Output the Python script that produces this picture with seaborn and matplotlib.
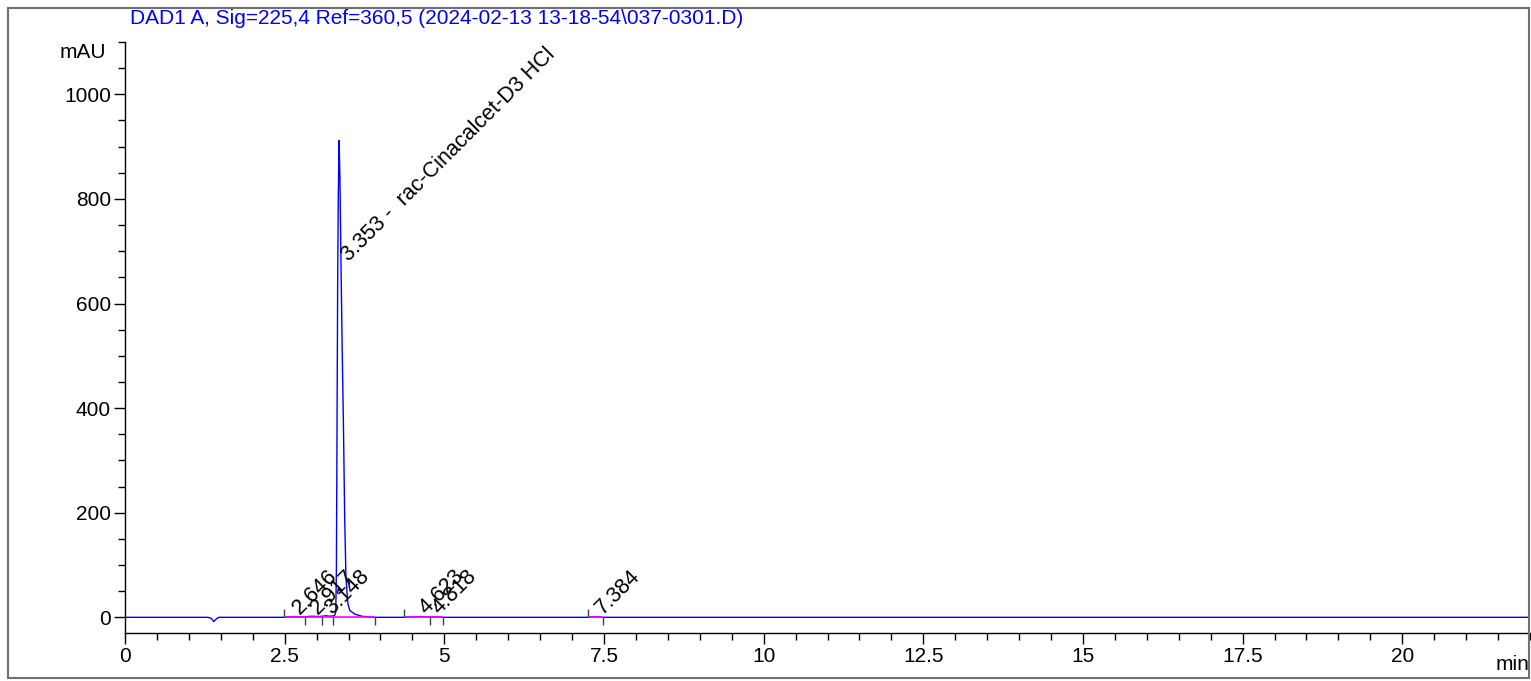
"""
Chromatogram recreation: DAD1 A signal with peak annotations
"""

import matplotlib
matplotlib.use("Agg")
import matplotlib.pyplot as plt
from matplotlib.ticker import MultipleLocator, FuncFormatter
from matplotlib.patches import Rectangle
import seaborn as sns
import pandas as pd

# Signal trace (min, mAU)
time_min = [0.0, 1.30, 1.35, 1.39, 1.43, 1.47, 2.50, 2.646, 2.80, 2.917, 3.05, 3.148,
            3.20, 3.28, 3.30, 3.31, 3.32, 3.33, 3.34, 3.353, 3.365, 3.385, 3.40,
            3.42, 3.44, 3.46, 3.49, 3.52, 3.60, 3.71, 3.90, 4.40, 4.623, 4.72,
            4.818, 5.00, 7.25, 7.384, 7.50, 22.0]
signal_mau = [0.0, 0.0, -2.0, -8.0, -3.0, 0.0, 0.0, 1.5, 1.0, 2.0, 1.5, 3.0,
              2.0, 3.0, 10.0, 90.0, 360.0, 640.0, 810.0, 912.0, 840.0, 650.0, 520.0,
              370.0, 190.0, 75.0, 26.0, 13.0, 6.0, 2.0, 0.0, 0.0, 1.5, 0.8,
              1.0, 0.0, 0.0, 1.5, 0.0, 0.0]

# Peak labels
peak_rt = [2.646, 2.917, 3.148, 4.623, 4.818, 7.384]
peak_text = ["2.646", "2.917", "3.148", "4.623", "4.818", "7.384"]
main_rt = 3.353
main_text = "3.353 -  rac-Cinacalcet-D3 HCl"

# Integration baselines (start, end) and event marks
base_start = [2.49, 4.37, 7.25]
base_end = [3.91, 4.98, 7.48]
start_marks = [2.49, 4.37, 7.25]
end_marks = [2.82, 3.08, 3.25, 3.91, 4.77, 4.98, 7.48]

title_text = "DAD1 A, Sig=225,4 Ref=360,5 (2024-02-13 13-18-54\\037-0301.D)"

sns.set_style("ticks")
plt.rcParams['font.family'] = ['Liberation Sans', 'DejaVu Sans']
plt.rcParams['text.color'] = 'black'

W, H = 1531, 681
fig = plt.figure(figsize=(W / 100, H / 100), dpi=100)
ax = fig.add_axes([125 / W, 48 / H, (1530 - 125) / W, 591 / H])

df = pd.DataFrame({'time': time_min, 'signal': signal_mau})
sns.lineplot(data=df, x='time', y='signal', ax=ax, color='#0000ff', linewidth=1.0,
             estimator=None, sort=False, zorder=3)

# integration baselines in magenta
ax.hlines([0.8] * len(base_start), base_start, base_end, colors='#ff00ff',
          linewidth=1.2, zorder=4)
ax.vlines(start_marks, 0, 15, colors='#404040', linewidth=1.0, zorder=4)
ax.vlines(end_marks, -15, 0, colors='#404040', linewidth=1.0, zorder=4)

for rt, txt in zip(peak_rt, peak_text):
    ax.text(rt + 0.1, 4, txt, rotation=45, rotation_mode='anchor', ha='left',
            va='baseline', fontsize=15.5, color='black', zorder=5)
ax.text(main_rt + 0.15, 680, main_text, rotation=45, rotation_mode='anchor',
        ha='left', va='baseline', fontsize=15.5, color='black', zorder=5)

ax.set_xlim(0, 22)
ax.set_ylim(-30, 1100)
ax.set_xlabel('')
ax.set_ylabel('')
ax.xaxis.set_major_locator(MultipleLocator(2.5))
ax.xaxis.set_minor_locator(MultipleLocator(0.5))
ax.yaxis.set_major_locator(MultipleLocator(200))
ax.yaxis.set_minor_locator(MultipleLocator(50))
ax.xaxis.set_major_formatter(FuncFormatter(lambda v, p: f"{v:g}"))
ax.yaxis.set_major_formatter(FuncFormatter(lambda v, p: f"{v:g}"))
ax.tick_params(axis='both', which='major', length=8, width=1, labelsize=15,
               color='black', labelcolor='black', pad=2)
ax.tick_params(axis='both', which='minor', length=5, width=1, color='black')

sns.despine(ax=ax, top=True, right=True)
ax.spines['left'].set_linewidth(1)
ax.spines['bottom'].set_linewidth(1)
ax.spines['left'].set_color('black')
ax.spines['bottom'].set_color('black')

fig.text(130 / W, 1 - 19 / H, title_text, color='#0000ff', fontsize=15,
         ha='left', va='center')
fig.text(106 / W, 1 - 53 / H, 'mAU', fontsize=15, ha='right', va='center')
fig.text(1529 / W, 1 - 665 / H, 'min', fontsize=15, ha='right', va='center')

fig.patches.append(Rectangle((8 / W, 3 / H), (1529 - 8) / W, (678 - 8) / H,
                             transform=fig.transFigure, fill=False,
                             edgecolor='#707070', linewidth=1.5))

plt.savefig("out.png", dpi=100)
plt.close()
